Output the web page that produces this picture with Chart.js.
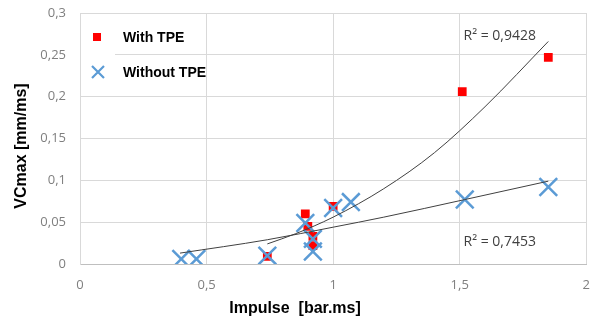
<!DOCTYPE html>
<html>
<head>
<meta charset="utf-8">
<script src="https://cdn.jsdelivr.net/npm/chart.js@4/dist/chart.umd.min.js"></script>
<style>
  html, body { margin: 0; padding: 0; background: #fff; }
  #wrap { width: 590px; height: 324px; }
</style>
</head>
<body>
<div id="wrap"><canvas id="myChart" width="590" height="324"></canvas></div>
<script>
// values
const tpeX = [0.74, 0.89, 0.90, 0.92, 0.92, 1.00, 1.51, 1.85];
const tpeY = [0.009, 0.060, 0.045, 0.033, 0.022, 0.069, 0.206, 0.247];

const noTpeX = [0.40, 0.46, 0.74, 0.89, 0.92, 0.92, 1.00, 1.07, 1.52, 1.85];
const noTpeY = [0.006, 0.006, 0.010, 0.049, 0.030, 0.015, 0.067, 0.074, 0.077, 0.092];

// trendlines (power fits in the original), sampled along the drawn curves
const tpeTrendX = [0.74, 0.85, 1.00, 1.20, 1.40, 1.60, 1.85];
const tpeTrendY = [0.024, 0.036, 0.056, 0.090, 0.133, 0.188, 0.266];
const noTpeTrendX = [0.395, 0.74, 1.00, 1.20, 1.52, 1.85];
const noTpeTrendY = [0.013, 0.029, 0.044, 0.056, 0.077, 0.099];

const seriesNames = ['With TPE', 'Without TPE'];
const r2Labels = ['R² = 0,9428', 'R² = 0,7453'];
const xTicks = [0, 0.5, 1, 1.5, 2];
const yTicks = [0, 0.05, 0.1, 0.15, 0.2, 0.25, 0.3];

const toPoints = (xs, ys) => xs.map((x, i) => ({ x, y: ys[i] }));
const comma = (v) => String(v).replace('.', ',');

const RED = '#ff0000';
const BLUE = '#5b9bd5';

const overlay = {
  id: 'overlay',
  beforeDatasetsDraw(chart) {
    const { ctx, chartArea } = chart;
    // legend box hides the grid behind the symbols
    ctx.save();
    ctx.fillStyle = '#fff';
    ctx.fillRect(chartArea.left + 1, 24, 34, 60);
    ctx.restore();
  },
  afterDraw(chart) {
    const { ctx, scales } = chart;
    ctx.save();

    // legend
    ctx.fillStyle = RED;
    ctx.fillRect(93, 33, 8, 8);
    ctx.strokeStyle = BLUE;
    ctx.lineWidth = 2.2;
    ctx.beginPath();
    ctx.moveTo(92, 66); ctx.lineTo(104, 78);
    ctx.moveTo(104, 66); ctx.lineTo(92, 78);
    ctx.stroke();

    ctx.fillStyle = '#000';
    ctx.font = 'bold 14px "Liberation Sans", Arial, sans-serif';
    ctx.textBaseline = 'middle';
    ctx.textAlign = 'left';
    ctx.fillText(seriesNames[0], 123, 38);
    ctx.fillText(seriesNames[1], 123, 73);

    // R² labels
    ctx.fillStyle = '#404040';
    ctx.font = '14px "Open Sans", sans-serif';
    ctx.fillText(r2Labels[0], scales.x.getPixelForValue(1.515), scales.y.getPixelForValue(0.272));
    ctx.fillText(r2Labels[1], scales.x.getPixelForValue(1.515), scales.y.getPixelForValue(0.026));

    // axis titles
    ctx.fillStyle = '#000';
    ctx.font = 'bold 16px "Liberation Sans", Arial, sans-serif';
    ctx.textAlign = 'center';
    ctx.fillText('Impulse  [bar.ms]', 295, 309);
    ctx.translate(22, 146);
    ctx.rotate(-Math.PI / 2);
    ctx.fillText('VCmax [mm/ms]', 0, 0);
    ctx.restore();
  },
};

const chartContext = document.getElementById('myChart').getContext('2d');

const chart = new Chart(chartContext, {
  type: 'scatter',
  data: {
    datasets: [
      {
        label: 'Trend TPE',
        type: 'line',
        data: toPoints(tpeTrendX, tpeTrendY),
        borderColor: '#404040',
        borderWidth: 1,
        pointRadius: 0,
        cubicInterpolationMode: 'monotone',
        order: 0,
      },
      {
        label: 'Trend no TPE',
        type: 'line',
        data: toPoints(noTpeTrendX, noTpeTrendY),
        borderColor: '#404040',
        borderWidth: 1,
        pointRadius: 0,
        cubicInterpolationMode: 'monotone',
        order: 0,
      },
      {
        label: seriesNames[1],
        data: toPoints(noTpeX, noTpeY),
        pointStyle: 'crossRot',
        pointRadius: 12.5,
        borderColor: BLUE,
        borderWidth: 2.5,
        order: 1,
      },
      {
        label: seriesNames[0],
        data: toPoints(tpeX, tpeY),
        pointStyle: 'rect',
        pointRadius: 6.2,
        backgroundColor: RED,
        borderColor: RED,
        borderWidth: 0,
        order: 2,
      },
    ],
  },
  options: {
    responsive: false,
    animation: false,
    // big cross markers would otherwise shrink the plot area
    layout: { autoPadding: false, padding: { left: 0, right: 3, top: 13, bottom: 0 } },
    plugins: {
      legend: { display: false },
      tooltip: { enabled: false },
    },
    scales: {
      x: {
        type: 'linear',
        min: 0,
        max: 2,
        afterBuildTicks: (scale) => { scale.ticks = xTicks.map((v) => ({ value: v })); },
        afterFit: (scale) => { scale.height = 60; },
        // invisible tick marks push the labels down without widening the side padding
        grid: { color: '#d9d9d9', drawTicks: true, tickLength: 13, tickColor: 'rgba(0,0,0,0)' },
        border: { color: '#bfbfbf' },
        ticks: {
          padding: 0,
          color: '#7f7f7f',
          font: { family: '"Open Sans", sans-serif', size: 13 },
          callback: (v) => comma(v),
        },
      },
      y: {
        min: 0,
        max: 0.3,
        afterBuildTicks: (scale) => { scale.ticks = yTicks.map((v) => ({ value: v })); },
        afterFit: (scale) => {
          scale.width = 80;
          scale.paddingTop = 0;
          scale.paddingBottom = 0;
        },
        grid: { color: '#d9d9d9', drawTicks: false },
        border: { color: '#d9d9d9' },
        ticks: {
          padding: 14,
          color: '#7f7f7f',
          font: { family: '"Open Sans", sans-serif', size: 13 },
          callback: (v) => comma(v),
        },
      },
    },
  },
  plugins: [overlay],
});
</script>
</body>
</html>
